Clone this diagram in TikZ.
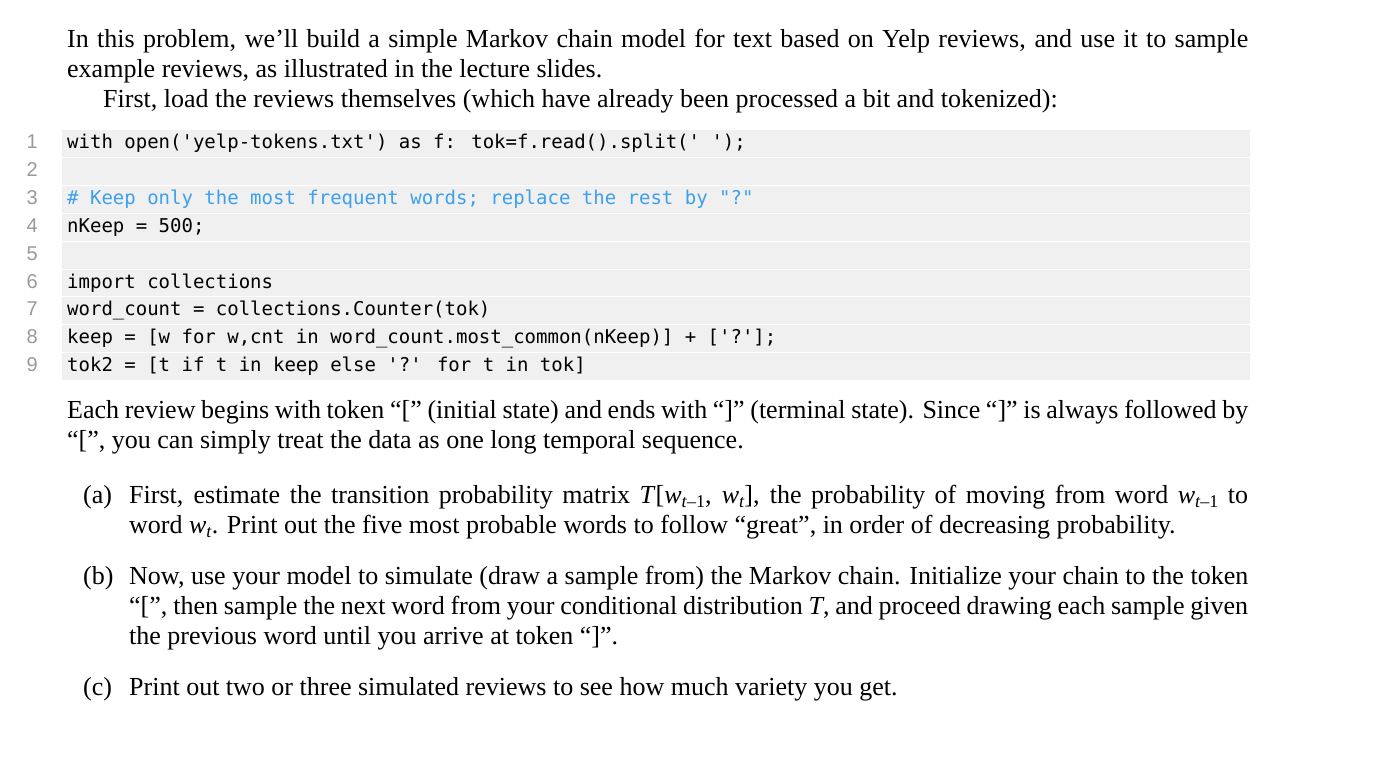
\documentclass[tikz,border=0pt]{standalone}
\usepackage{fontspec}
\setmainfont{Liberation Serif}
\newfontfamily\codefont{DejaVu Sans Mono}
\newfontfamily\numfont{Liberation Sans}
\begin{document}
\begin{tikzpicture}[x=1pt,y=-1pt,
  txt/.style={anchor=base west,inner sep=0pt,font=\fontsize{26}{30}\selectfont},
  code/.style={anchor=base west,inner sep=0pt,font=\codefont\fontsize{19}{27}\selectfont},
  lno/.style={anchor=base east,inner sep=0pt,text=black!40,font=\numfont\fontsize{20}{27}\selectfont}]
\useasboundingbox (0,0) rectangle (1398,770);
\newcommand\J[1]{\makebox[1181pt][s]{#1}}
\newcommand\K[1]{\makebox[1119pt][s]{#1}}
\newcommand\V[2]{\textit{#1}\raisebox{-4pt}{\fontsize{18}{18}\selectfont\textit{#2}}}
\node[txt] (l1) at (67,48) {\J{In this problem, we’ll build a simple Markov chain model for text based on Yelp reviews, and use it to sample}};
\node[txt] (l2) at (67,78) {example reviews, as illustrated in the lecture slides.};
\node[txt] (l3) at (103,108) {First, load the reviews themselves (which have already been processed a bit and tokenized):};
\fill[black!6] (62,130) rectangle (1250,380);
\foreach \i in {1,...,8}{\draw[white,line width=0.8pt] (62,{130+\i*27.8}) -- (1250,{130+\i*27.8});}
\foreach \i in {1,...,9}{\node[lno] (n\i) at (38,{149+(\i-1)*27.8}) {\i};}
\node[code] (c1) at (67,149) {with open('yelp-tokens.txt') as f: tok=f.read().split(' ');};
\node[code,text={rgb,255:red,60;green,160;blue,235}] (c3) at (67,204.6) {\# Keep only the most frequent words; replace the rest by "?"};
\node[code] (c4) at (67,232.4) {nKeep = 500;};
\node[code] (c6) at (67,288) {import collections};
\node[code] (c7) at (67,315.8) {word\_count = collections.Counter(tok)};
\node[code] (c8) at (67,343.6) {keep = [w for w,cnt in word\_count.most\_common(nKeep)] + ['?'];};
\node[code] (c9) at (67,371.4) {tok2 = [t if t in keep else '?' for t in tok]};
\node[txt] (p1) at (67,418) {\J{Each review begins with token “[” (initial state) and ends with “]” (terminal state). Since “]” is always followed by}};
\node[txt] (p2) at (67,448) {“[”, you can simply treat the data as one long temporal sequence.};
\node[txt] (a0) at (83,503) {(a)};
\node[txt] (a1) at (129,503) {\K{First, estimate the transition probability matrix \textit{T}[\V{w}{t}{\fontsize{18}{18}\selectfont\raisebox{-4pt}{–1}}, \V{w}{t}], the probability of moving from word \V{w}{t}{\fontsize{18}{18}\selectfont\raisebox{-4pt}{–1}} to}};
\node[txt] (a2) at (129,533) {word \V{w}{t}. Print out the five most probable words to follow “great”, in order of decreasing probability.};
\node[txt] (b0) at (83,584) {(b)};
\node[txt] (b1) at (129,584) {\K{Now, use your model to simulate (draw a sample from) the Markov chain. Initialize your chain to the token}};
\node[txt] (b2) at (129,614) {\K{“[”, then sample the next word from your conditional distribution \textit{T}, and proceed drawing each sample given}};
\node[txt] (b3) at (129,644) {the previous word until you arrive at token “]”.};
\node[txt] (c0) at (83,695) {(c)};
\node[txt] (cc) at (129,695) {Print out two or three simulated reviews to see how much variety you get.};
\end{tikzpicture}
\end{document}
